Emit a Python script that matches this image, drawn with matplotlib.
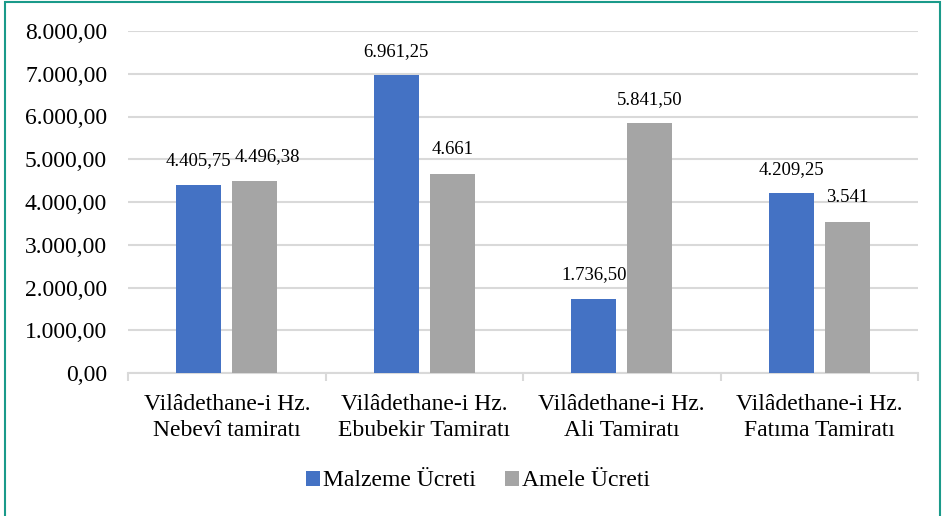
import matplotlib
matplotlib.use("Agg")
import matplotlib.pyplot as plt
import numpy as np
from matplotlib.patches import Rectangle
from matplotlib.ticker import FuncFormatter

categories = ["Vilâdethane-i Hz.\nNebevî tamiratı",
              "Vilâdethane-i Hz.\nEbubekir Tamiratı",
              "Vilâdethane-i Hz.\nAli Tamiratı",
              "Vilâdethane-i Hz.\nFatıma Tamiratı"]
malzeme = [4405.75, 6961.25, 1736.50, 4209.25]
amele = [4496.38, 4661, 5841.50, 3541]
malzeme_labels = ["4.405,75", "6.961,25", "1.736,50", "4.209,25"]
amele_labels = ["4.496,38", "4.661", "5.841,50", "3.541"]

plt.rcParams["font.family"] = ["Liberation Serif", "DejaVu Serif"]

def tr_format(v, pos):
    s = f"{v:,.2f}"
    return s.replace(",", "X").replace(".", ",").replace("X", ".")

fig = plt.figure(figsize=(9.48, 5.16), dpi=100)
ax = fig.add_axes([128 / 948, 1 - 373 / 516, 790 / 948, 342 / 516])

x = np.arange(len(categories))
w = 0.228
off = 0.142
b1 = ax.bar(x - off, malzeme, w, color="#4472C4", label="Malzeme Ücreti", zorder=3)
b2 = ax.bar(x + off, amele, w, color="#A5A5A5", label="Amele Ücreti", zorder=3)

for bars, labels, nudge in [(b1, malzeme_labels, [0, 0, 0, 0]), (b2, amele_labels, [9, 0, 0, 0])]:
    for bar, lab, dx in zip(bars, labels, nudge):
        ax.annotate(lab, (bar.get_x() + bar.get_width() / 2, bar.get_height()),
                    xytext=(dx, 11), textcoords="offset points", ha="center", va="bottom",
                    fontsize=13.5)

ax.set_xlim(-0.5, len(categories) - 0.5)
ax.set_ylim(0, 8000)
ax.set_yticks(np.arange(0, 8001, 1000))
ax.yaxis.set_major_formatter(FuncFormatter(tr_format))
ax.grid(axis="y", color="#d9d9d9", lw=1.5, zorder=0)

ax.set_xticks(x)
ax.set_xticklabels(categories, fontsize=17, linespacing=1.35)
ax.set_xticks(np.arange(-0.5, len(categories)), minor=True)
ax.tick_params(axis="x", which="major", length=0, pad=15)
ax.tick_params(axis="x", which="minor", length=6, color="#d9d9d9", width=1.5)
ax.tick_params(axis="y", length=0, labelsize=17, pad=15)

for s in ["top", "right", "left"]:
    ax.spines[s].set_visible(False)
ax.spines["bottom"].set_color("#d9d9d9")
ax.spines["bottom"].set_linewidth(1.5)

fig.legend(loc="center", bbox_to_anchor=(478 / 948, 1 - 481 / 516), ncol=2, frameon=False,
           fontsize=17, handlelength=0.6, handleheight=0.6, handletextpad=0.15, columnspacing=1.2)

fig.patches.append(Rectangle((5 / 948, -0.01), 935 / 948, 1 - 2 / 516 + 0.01,
                             transform=fig.transFigure, fill=False, edgecolor="#1a9a8a", lw=1.5))

fig.savefig("out.png", dpi=100)
